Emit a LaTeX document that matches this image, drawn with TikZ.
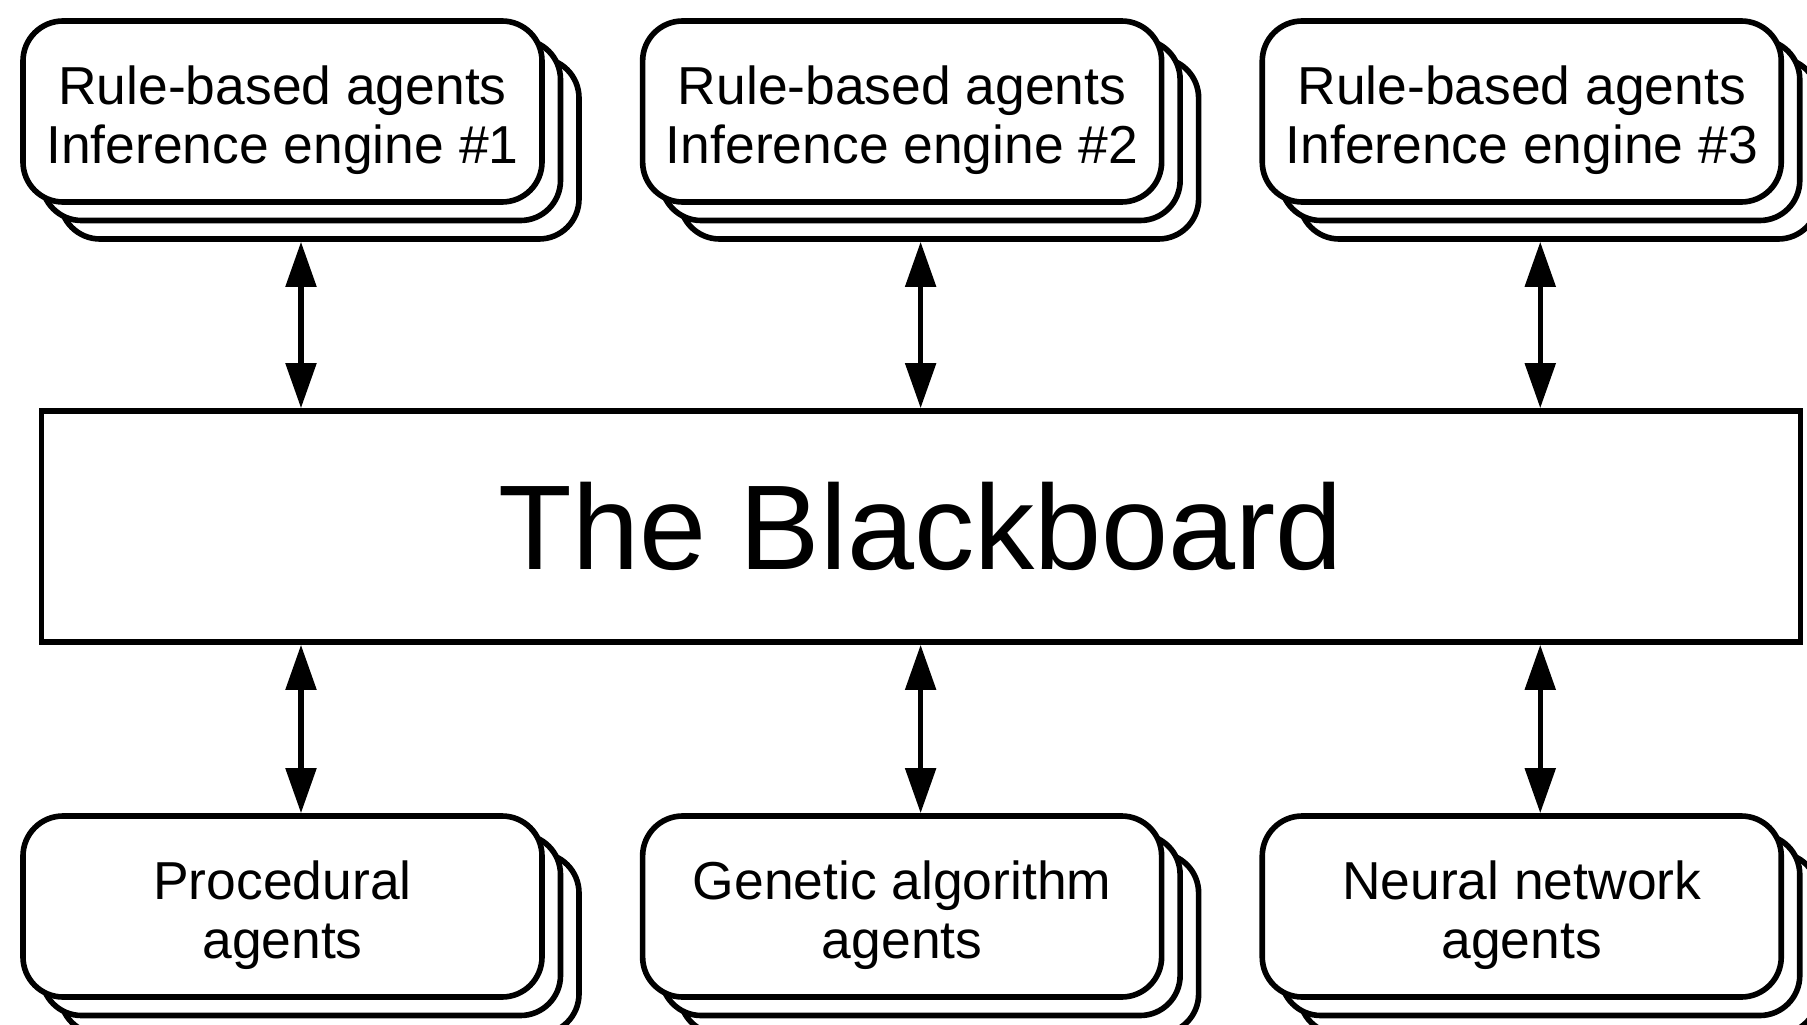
\documentclass[tikz,border=0pt]{standalone}
\usepackage{fontspec}
\setmainfont{Liberation Sans}
\usetikzlibrary{positioning,shadows,arrows.meta}

\begin{document}
\begin{tikzpicture}[
    agents/.style={draw, fill=white, rounded corners=0.4cm, line width=1.6pt,
        minimum width=5.19cm, minimum height=1.81cm, align=center,
        font=\fontsize{15.2}{17}\selectfont, text height=33pt, text depth=3.2pt,
        copy shadow={shadow xshift=0.37cm, shadow yshift=-0.37cm, draw, fill=white},
        copy shadow={shadow xshift=0.185cm, shadow yshift=-0.185cm, draw, fill=white}},
    board/.style={draw, fill=white, rectangle, line width=1.6pt, minimum width=17.59cm, minimum height=2.31cm, font=\fontsize{34.3}{40}\selectfont},
    arrow/.style={{Triangle[length=0.45cm, width=0.3cm]}-{Triangle[length=0.45cm, width=0.3cm]}, line width=1.5pt}
]
    \useasboundingbox (0,0) rectangle (18.07,-10.25);

    % Blocks
    \node[board] (board) at (9.21,-5.265) {The Blackboard};

    \node[agents] (rule1) at (2.825,-1.115) {Rule-based agents\\Inference engine \#1};
    \node[agents, right=0.95cm of rule1] (rule2) {Rule-based agents\\Inference engine \#2};
    \node[agents, right=0.95cm of rule2] (rule3) {Rule-based agents\\Inference engine \#3};

    \node[agents] (proc) at (2.825,-9.065) {Procedural\\agents};
    \node[agents, right=0.95cm of proc] (genetic) {Genetic algorithm\\agents};
    \node[agents, right=0.95cm of genetic] (neural) {Neural network\\agents};

    % Arrows
    \foreach \n in {rule1,rule2,rule3} {
        \coordinate (\n-end) at ([xshift=0.185cm, yshift=-0.37cm]\n.south);
        \draw[arrow] (\n-end) -- (\n-end |- board.north);
    }
    \foreach \n in {proc,genetic,neural} {
        \coordinate (\n-end) at ([xshift=0.185cm]\n.north);
        \draw[arrow] (board.south -| \n-end) -- (\n-end);
    }
\end{tikzpicture}
\end{document}
